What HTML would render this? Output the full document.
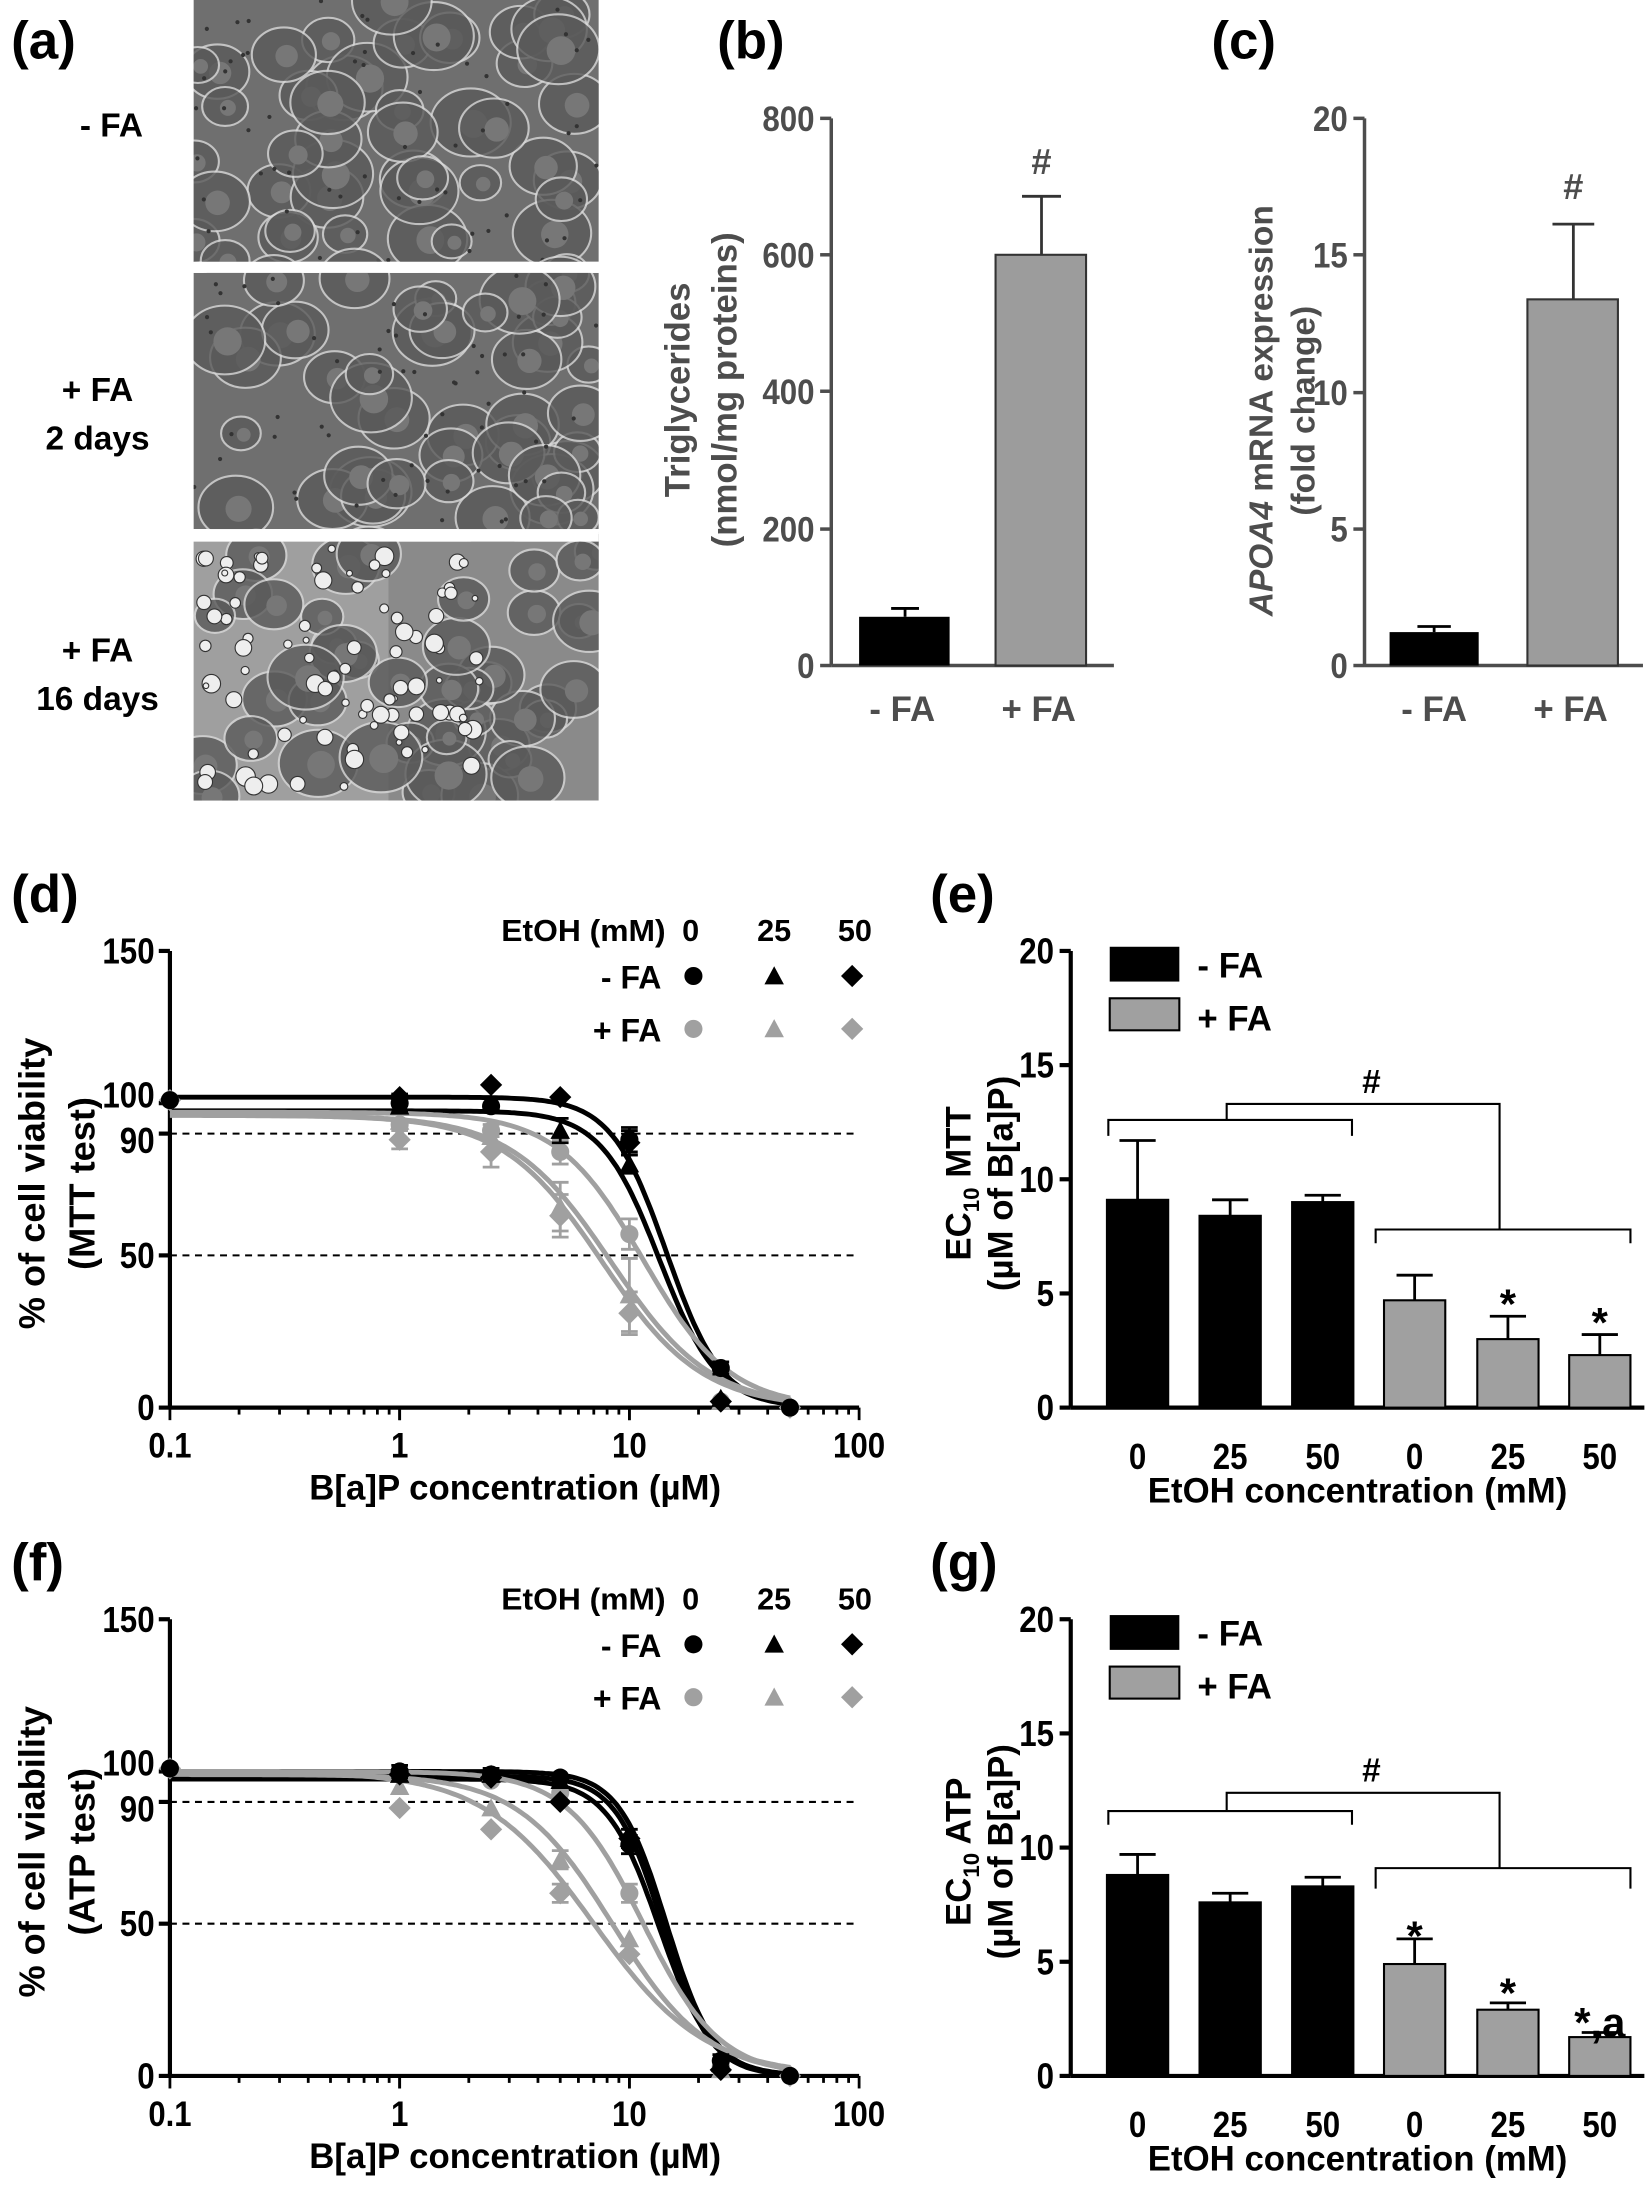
<!DOCTYPE html>
<html><head><meta charset="utf-8"><style>
html,body{margin:0;padding:0;background:#fff;}
svg{display:block;font-family:"Liberation Sans",Arial,sans-serif;font-weight:bold;}
</style></head><body>
<svg id="s" width="1650" height="2188" viewBox="0 0 1185 1571.5" xmlns="http://www.w3.org/2000/svg">
<rect width="1185" height="1572" fill="#fff"/>
<g id="g"></g>
</svg>
<script>
const NS="http://www.w3.org/2000/svg";const G=document.getElementById('g');
function el(t,a,txt){const e=document.createElementNS(NS,t);for(const k in a)e.setAttribute(k,a[k]);if(txt!==undefined)e.textContent=txt;G.appendChild(e);return e;}
function line(x1,y1,x2,y2,c,w,extra){return el('line',Object.assign({x1,y1,x2,y2,stroke:c||'#000','stroke-width':w||2},extra||{}));}
function text(x,y,s,size,anchor,fill,extra){return el('text',Object.assign({x,y,'font-size':size,'text-anchor':anchor||'middle',fill:fill||'#000'},extra||{}),s);}
function ntext(x,y,s,size,anchor,fill){const cw={'.':6}; let w=0;for(const ch of s)w+=(cw[ch]||12.5);return text(x,y,s,size,anchor,fill,{textLength:w,lengthAdjust:'spacingAndGlyphs'});}
let seed=7;function rnd(){seed=(seed*16807)%2147483647;return seed/2147483647;}
function photo(y0,h,bright){
 el('rect',{x:139,y:y0,width:291,height:h,fill:bright?'#8a8a8a':'#6f6f6f'});
 if(bright){el('rect',{x:139,y:y0,width:140,height:h,fill:'#a8a8a8',opacity:0.7});}
 for(let i=0;i<45;i++){const cx=139+rnd()*291,cy=y0+rnd()*h,r=14+rnd()*16;
  el('ellipse',{cx,cy,rx:r,ry:r*0.85,fill:'#5a5a5a',stroke:'#d8d8d8','stroke-width':1.5,opacity:0.8});
  el('circle',{cx:cx+2,cy:cy+1,r:r*0.35,fill:'#777'});}
 if(bright){for(let i=0;i<90;i++){el('circle',{cx:145+rnd()*200,cy:y0+5+rnd()*(h-10),r:2+rnd()*5,fill:'#eee',stroke:'#333','stroke-width':0.8});}}
 else{for(let i=0;i<60;i++){el('circle',{cx:139+rnd()*291,cy:y0+rnd()*h,r:1.5,fill:'#333'});}}
}
photo(0,188,false);photo(196,184,false);photo(389,186,true);
el('rect',{x:100,y:0,width:39,height:600,fill:'#fff'});
el('rect',{x:430,y:0,width:20,height:600,fill:'#fff'});
el('rect',{x:139,y:188,width:291,height:8,fill:'#fff'});
el('rect',{x:139,y:380,width:291,height:9,fill:'#fff'});
el('rect',{x:100,y:575,width:350,height:30,fill:'#fff'});
text(8,42,'(a)',38,'start');
text(80,98,'- FA',24,'middle');text(70,288,'+ FA',24);text(70,323,'2 days',24);
text(70,475,'+ FA',24);text(70,510,'16 days',24);
const gc='#4d4d4d';
text(515,42,'(b)',38,'start');
function vaxis(x,yt,yb,ticks,col){line(x,yt,x,yb,col,2.5);ticks.forEach(t=>{line(x-8,t[0],x,t[0],col,2.5);ntext(x-12,t[0]+9,t[1],25,'end',col);});}
vaxis(597,85,478,[[85,'800'],[183,'600'],[281,'400'],[380,'200'],[478,'0']],gc);
line(597,478,800,478,gc,2.5);
el('rect',{x:617,y:443,width:65,height:35,fill:'#000'});line(650,443,650,437,'#000',2);line(640,437,660,437,'#000',2);
el('rect',{x:715,y:183,width:65,height:295,fill:'#9c9c9c',stroke:'#333','stroke-width':1.5});line(748,183,748,141,'#333',2);line(734,141,762,141,'#333',2);
text(748,125,'#',26,'middle',gc);
text(648,518,'- FA',25,'middle',gc);text(746,518,'+ FA',25,'middle',gc);
text(0,0,'Triglycerides',25,'middle',gc,{transform:'translate(495,280) rotate(-90)'});
text(0,0,'(nmol/mg proteins)',25,'middle',gc,{transform:'translate(529,280) rotate(-90)'});
text(870,42,'(c)',38,'start');
vaxis(980,85,478,[[85,'20'],[183,'15'],[282,'10'],[380,'5'],[478,'0']],gc);
line(980,478,1180,478,gc,2.5);
el('rect',{x:998,y:454,width:64,height:24,fill:'#000'});line(1030,454,1030,450,'#000',2);line(1018,450,1042,450,'#000',2);
el('rect',{x:1097,y:215,width:65,height:263,fill:'#9c9c9c',stroke:'#333','stroke-width':1.5});line(1130,215,1130,161,'#333',2);line(1115,161,1145,161,'#333',2);
text(1130,143,'#',26,'middle',gc);
text(1030,518,'- FA',25,'middle',gc);text(1128,518,'+ FA',25,'middle',gc);
let tc=el('text',{transform:'translate(914,295) rotate(-90)','font-size':24,'text-anchor':'middle',fill:gc});
tc.innerHTML='<tspan font-style="italic">APOA4</tspan> mRNA expression';
text(0,0,'(fold change)',24,'middle',gc,{transform:'translate(944,295) rotate(-90)'});
function dr(off,lab,ylab,curves,pts){
 const X0=122,X1=617,Yb=1011+off,Yt=683+off;
 const xs=v=>X0+(Math.log10(v)+1)*165, ys=v=>Yb-(v/150)*(Yb-Yt);
 text(8,655+off,lab,38,'start');
 line(X0,Yt,X0,Yb,'#000',3);line(X0,Yb,X1,Yb,'#000',3);
 [[150,'150'],[100,'100'],[90,'90'],[50,'50'],[0,'0']].forEach(a=>{line(X0-8,ys(a[0]),X0,ys(a[0]),'#000',3);ntext(X0-11,ys(a[0])+(a[0]==100?3:a[0]==90?14:9),a[1],26,'end','#000');});
 [90,50].forEach(v=>line(X0,ys(v),X1,ys(v),'#000',1.5,{'stroke-dasharray':'5,4'}));
 for(let d=-1;d<2;d++)for(let m=1;m<=10;m++){const x=X0+(d+1)*165+Math.log10(m)*165;line(x,Yb,x,Yb+(m==1||m==10?9:5),'#000',2);}
 [['0.1',0.1],['1',1],['10',10],['100',100]].forEach(a=>ntext(xs(a[1]),Yb+36,a[0],25,'middle','#000'));
 text(370,Yb+66,'B[a]P concentration (µM)',25);
 text(0,0,'% of cell viability',26,'middle','#000',{transform:`translate(32,${850+off}) rotate(-90)`});
 text(0,0,'('+ylab+' test)',26,'middle','#000',{transform:`translate(68,${850+off}) rotate(-90)`});
 text(478,676+off,'EtOH (mM)',22,'end','#000',{textLength:118,lengthAdjust:'spacingAndGlyphs'});text(496,676+off,'0',22);text(556,676+off,'25',22);text(614,676+off,'50',22);
 text(475,710+off,'- FA',23,'end');text(475,748+off,'+ FA',23,'end');
 [['#000',701],['#a0a0a0',739]].forEach(r=>{marker(0,498,r[1]+off,r[0]);marker(1,556,r[1]+off,r[0]);marker(2,612,r[1]+off,r[0]);});
 curves.forEach(c=>{let d='';for(let i=0;i<=200;i++){const lx=-1+i*2.7/200,x=Math.pow(10,lx);const y=c.t/(1+Math.pow(x/c.e,c.h));d+=(i?'L':'M')+xs(x).toFixed(1)+','+ys(y).toFixed(1);}el('path',{d,fill:'none',stroke:c.c,'stroke-width':3.5});});
 pts.forEach(p=>{const col=p[1];p[2].forEach(q=>{const x=xs(q[0]),y=ys(q[1]);if(q[2]){line(x,ys(q[1]-q[2]),x,ys(q[1]+q[2]),col,2);line(x-6,ys(q[1]+q[2]),x+6,ys(q[1]+q[2]),col,2);line(x-6,ys(q[1]-q[2]),x+6,ys(q[1]-q[2]),col,2);}marker(p[0],x,y,col);});});
}
function marker(k,x,y,c){if(k==0)el('circle',{cx:x,cy:y,r:6.5,fill:c});else if(k==1)el('polygon',{points:`${x},${y-7} ${x+7},${y+6} ${x-7},${y+6}`,fill:c});else el('polygon',{points:`${x},${y-8} ${x+8},${y} ${x},${y+8} ${x-8},${y}`,fill:c});}
const B='#000',Gr='#a0a0a0';
dr(0,'(d)','MTT',[{t:102,e:14.5,h:3.6,c:B},{t:97.5,e:13.5,h:3.4,c:B},{t:97,e:11.5,h:2.3,c:Gr},{t:96,e:8.3,h:2.0,c:Gr},{t:96,e:7.6,h:2.0,c:Gr}],
[[0,Gr,[[0.1,101],[1,93],[2.5,91,2],[5,84,4],[10,57,5],[25,2],[50,0]]],[1,Gr,[[1,94],[2.5,89],[5,66,8],[10,37,12],[25,2]]],[2,Gr,[[0.1,101],[1,88,3],[2.5,84,5],[5,63,7],[10,31,7],[25,2],[50,0]]],
 [0,B,[[0.1,101],[1,100,3],[2.5,99],[10,88,4],[25,13,2],[50,0]]],[1,B,[[1,99],[2.5,100],[5,91,4],[10,80,3],[25,3]]],[2,B,[[1,102],[2.5,106],[5,102],[10,87,4],[25,2]]]]);
dr(480,'(f)','ATP',[{t:100,e:14.5,h:4.2,c:B},{t:98.5,e:14,h:4.2,c:B},{t:97.5,e:13.5,h:3.8,c:B},{t:100,e:11.5,h:2.6,c:Gr},{t:99,e:8.5,h:2.1,c:Gr},{t:100,e:7,h:1.8,c:Gr}],
[[0,Gr,[[0.1,101],[1,99],[2.5,97],[5,93],[10,60,3],[25,3],[50,0]]],[1,Gr,[[1,95],[2.5,88],[5,71,3],[10,45],[25,2]]],[2,Gr,[[0.1,101],[1,88],[2.5,81],[5,60,3],[10,40],[25,2],[50,0]]],
 [0,B,[[0.1,101],[1,100,2],[2.5,99,2],[5,98],[10,76,3],[25,5,2],[50,0]]],[1,B,[[1,99],[2.5,99],[5,97],[10,78],[25,4]]],[2,B,[[1,99],[2.5,98],[5,90],[10,78,3],[25,2]]]]);
function bars(off,lab,sub,vals,stars,br){
 const X0=769,Yb=1011+off,Yt=683+off,k=(Yb-Yt)/20,ys=v=>Yb-v*k;
 text(668,655+off,lab,38,'start');
 line(X0,Yt,X0,Yb,'#000',3);line(X0,Yb,1181,Yb,'#000',3);
 [20,15,10,5,0].forEach(v=>{line(X0-8,ys(v),X0,ys(v),'#000',3);ntext(X0-12,ys(v)+9,String(v),26,'end','#000');});
 const cs=[817,883.5,950,1016,1083,1149];
 vals.forEach((v,i)=>{const c=cs[i],g=i>2;el('rect',{x:c-22,y:ys(v[0]),width:44,height:v[0]*k,fill:g?'#a0a0a0':'#000',stroke:'#000','stroke-width':1.5});line(c,ys(v[0]),c,ys(v[1]),'#000',2);line(c-13,ys(v[1]),c+13,ys(v[1]),'#000',2);ntext(c,Yb+44,['0','25','50'][i%3],26,'middle','#000');});
 stars.forEach(s=>text(cs[s[0]],ys(s[1])+18,s[2],30));
 text(975,Yb+68,'EtOH concentration (mM)',25);
 el('rect',{x:797,y:680+off,width:50,height:25,fill:'#000'});text(860,702+off,'- FA',25,'start');
 el('rect',{x:797,y:717+off,width:50,height:23,fill:'#a0a0a0',stroke:'#000','stroke-width':1.5});text(860,740+off,'+ FA',25,'start');
 const [l,lt,c,r,rt]=br;
 el('polyline',{points:`${796},${ys(lt)} 796,${ys(l)} 971,${ys(l)} 971,${ys(lt)}`,fill:'none',stroke:'#000','stroke-width':1.5});
 el('polyline',{points:`${988},${ys(rt)} 988,${ys(r)} 1171,${ys(r)} 1171,${ys(rt)}`,fill:'none',stroke:'#000','stroke-width':1.5});
 el('polyline',{points:`881,${ys(l)} 881,${ys(c)} 1077,${ys(c)} 1077,${ys(r)}`,fill:'none',stroke:'#000','stroke-width':1.5});
 text(985,ys(c)-8,'#',24);
 let yl=el('text',{transform:`translate(697,${850+off}) rotate(-90)`,'font-size':25,'text-anchor':'middle'});
 yl.innerHTML=`EC<tspan font-size="16" dy="6">10</tspan><tspan dy="-6"> ${sub}</tspan>`;
 text(0,0,'(µM of B[a]P)',25,'middle','#000',{transform:`translate(727,${850+off}) rotate(-90)`});
}
bars(0,'(e)','MTT',[[9.1,11.7],[8.4,9.1],[9.0,9.3],[4.7,5.8],[3.0,4.0],[2.3,3.2]],[[4,5.0,'*'],[5,4.2,'*']],[12.6,11.9,13.3,7.8,7.2]);
bars(480,'(g)','ATP',[[8.8,9.7],[7.6,8.0],[8.3,8.7],[4.9,6.0],[2.9,3.2],[1.7,1.9]],[[3,6.6,'*'],[4,4.1,'*'],[5,2.8,'*,a']],[11.6,11.0,12.4,9.1,8.2]);
</script>
</body></html>
